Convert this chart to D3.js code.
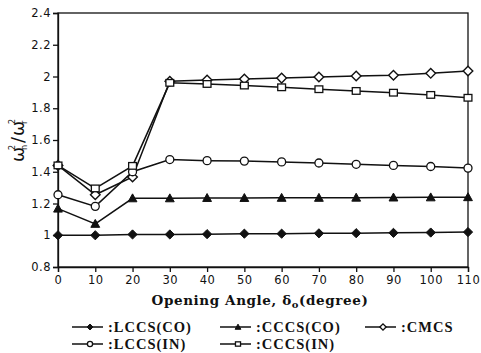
<!DOCTYPE html>
<html><head><meta charset="utf-8">
<script src="https://cdn.jsdelivr.net/npm/d3@7"></script>
<style>body{margin:0;background:#fff}svg{display:block}</style>
</head><body><svg id="c" width="481" height="353"></svg>
<script>
const angles = [0,10,20,30,40,50,60,70,80,90,100,110];
const lccsCO = [1.0,1.0,1.005,1.005,1.007,1.01,1.01,1.012,1.013,1.015,1.017,1.02];
const cccsCO = [1.168,1.072,1.233,1.233,1.235,1.235,1.236,1.236,1.237,1.238,1.239,1.24];
const cmcs   = [1.44,1.255,1.367,1.97,1.978,1.984,1.99,1.997,2.003,2.008,2.02,2.035];
const lccsIN = [1.255,1.182,1.40,1.477,1.47,1.467,1.462,1.455,1.447,1.44,1.433,1.423];
const cccsIN = [1.44,1.295,1.437,1.96,1.953,1.943,1.932,1.92,1.909,1.898,1.884,1.866];
const yTicks = [0.8,1,1.2,1.4,1.6,1.8,2,2.2,2.4];
const seriesNames = [":LCCS(CO)",":CCCS(CO)",":CMCS",":LCCS(IN)",":CCCS(IN)"];
const seriesVals = [lccsCO,cccsCO,cmcs,lccsIN,cccsIN];
const seriesMarks = ["fdiamond","ftriangle","odiamond","ocircle","osquare"];

const svg = d3.select("#c");
const L=58,R=468,T=13,B=267;
const x = d3.scaleLinear().domain([0,110]).range([L,R]);
const y = d3.scaleLinear().domain([0.8,2.4]).range([B,T]);

svg.append("rect").attr("x",L).attr("y",T).attr("width",R-L).attr("height",B-T)
  .attr("fill","none").attr("stroke","#111").attr("stroke-width",1.3);

const tickFont = "'DejaVu Sans', sans-serif";
const ax = svg.append("g").attr("transform",`translate(0,${B})`)
  .call(d3.axisBottom(x).tickValues(angles).tickSize(5).tickPadding(4).tickFormat(d3.format("d")));
const ay = svg.append("g").attr("transform",`translate(${L},0)`)
  .call(d3.axisLeft(y).tickValues(yTicks).tickSize(5).tickPadding(2).tickFormat(d=>String(+d.toFixed(1))));
[ax,ay].forEach(g=>{
  g.select(".domain").attr("stroke","#111").attr("stroke-width",1.3);
  g.selectAll(".tick line").attr("stroke","#111").attr("stroke-width",1.3);
  g.selectAll("text").attr("fill","#111").style("font-family",tickFont).style("font-size","11.5px").style("letter-spacing","0.5px");
});

function marker(g, type, cx, cy, k){
  k = k||1;
  if(type==="fdiamond"){
    const h=4.6*k;
    g.append("path").attr("d",`M${cx},${cy-h}L${cx+h},${cy}L${cx},${cy+h}L${cx-h},${cy}Z`).attr("fill","#111").attr("stroke","#111").attr("stroke-width",1);
  } else if(type==="ftriangle"){
    const h=4.4*k;
    g.append("path").attr("d",`M${cx},${cy-h}L${cx+h},${cy+h*0.8}L${cx-h},${cy+h*0.8}Z`).attr("fill","#111").attr("stroke","#111").attr("stroke-width",1);
  } else if(type==="odiamond"){
    const h=4.8*k;
    g.append("path").attr("d",`M${cx},${cy-h}L${cx+h},${cy}L${cx},${cy+h}L${cx-h},${cy}Z`).attr("fill","#fff").attr("stroke","#111").attr("stroke-width",1.4);
  } else if(type==="ocircle"){
    g.append("circle").attr("cx",cx).attr("cy",cy).attr("r",4*k).attr("fill","#fff").attr("stroke","#111").attr("stroke-width",1.3);
  } else if(type==="osquare"){
    const h=3.9*k;
    g.append("rect").attr("x",cx-h).attr("y",cy-h*0.85).attr("width",2*h).attr("height",1.7*h).attr("fill","#fff").attr("stroke","#111").attr("stroke-width",1.3);
  }
}

const line = d3.line().x((d,i)=>x(angles[i])).y(d=>y(d));
const plot = svg.append("g");
seriesVals.forEach(vals=>{
  plot.append("path").attr("d",line(vals)).attr("fill","none").attr("stroke","#111").attr("stroke-width",1.5);
});
seriesVals.forEach((vals,si)=>{
  vals.forEach((v,i)=>marker(plot,seriesMarks[si],x(angles[i]),y(v)));
});

// x title
const xt = svg.append("text").attr("x",260).attr("y",305).attr("text-anchor","middle")
  .style("font-family","'DejaVu Serif', serif").style("font-weight","bold").style("font-size","13.5px").style("letter-spacing","0.6px").attr("fill","#111");
xt.append("tspan").text("Opening  Angle, δ");
xt.append("tspan").text("o").attr("font-size","10px").attr("dy","3");
xt.append("tspan").text("(degree)").attr("dy","-3");

// y title
const yg = svg.append("g").attr("transform","translate(24,139) rotate(-90)").attr("fill","#111")
  .style("font-family","'DejaVu Sans', sans-serif");
const ytxt = (t,xx,yy,fs)=>yg.append("text").attr("x",xx).attr("y",yy).text(t).style("font-size",fs+"px");
ytxt("ω",-23,0,18);
ytxt("2",-11,-9,8);
ytxt("n",-11,3,8);
ytxt("/",-4,0,18);
ytxt("ω",3,0,18);
ytxt("2",15,-9,8);
ytxt("r",15,3,8);

// legend
const legPos = [[72,327],[220,327],[365,327],[72,344],[220,344]];
const lg = svg.append("g");
seriesNames.forEach((name,i)=>{
  const [lx,ly] = legPos[i];
  lg.append("line").attr("x1",lx).attr("x2",lx+31).attr("y1",ly).attr("y2",ly).attr("stroke","#111").attr("stroke-width",1.5);
  marker(lg,seriesMarks[i],lx+18,ly,0.65);
  lg.append("text").attr("x",lx+36).attr("y",ly+5).text(name)
    .style("font-family","'Liberation Serif', serif").style("font-size","14.5px").style("font-weight","bold").style("letter-spacing","1px").attr("fill","#111");
});
</script></body></html>
